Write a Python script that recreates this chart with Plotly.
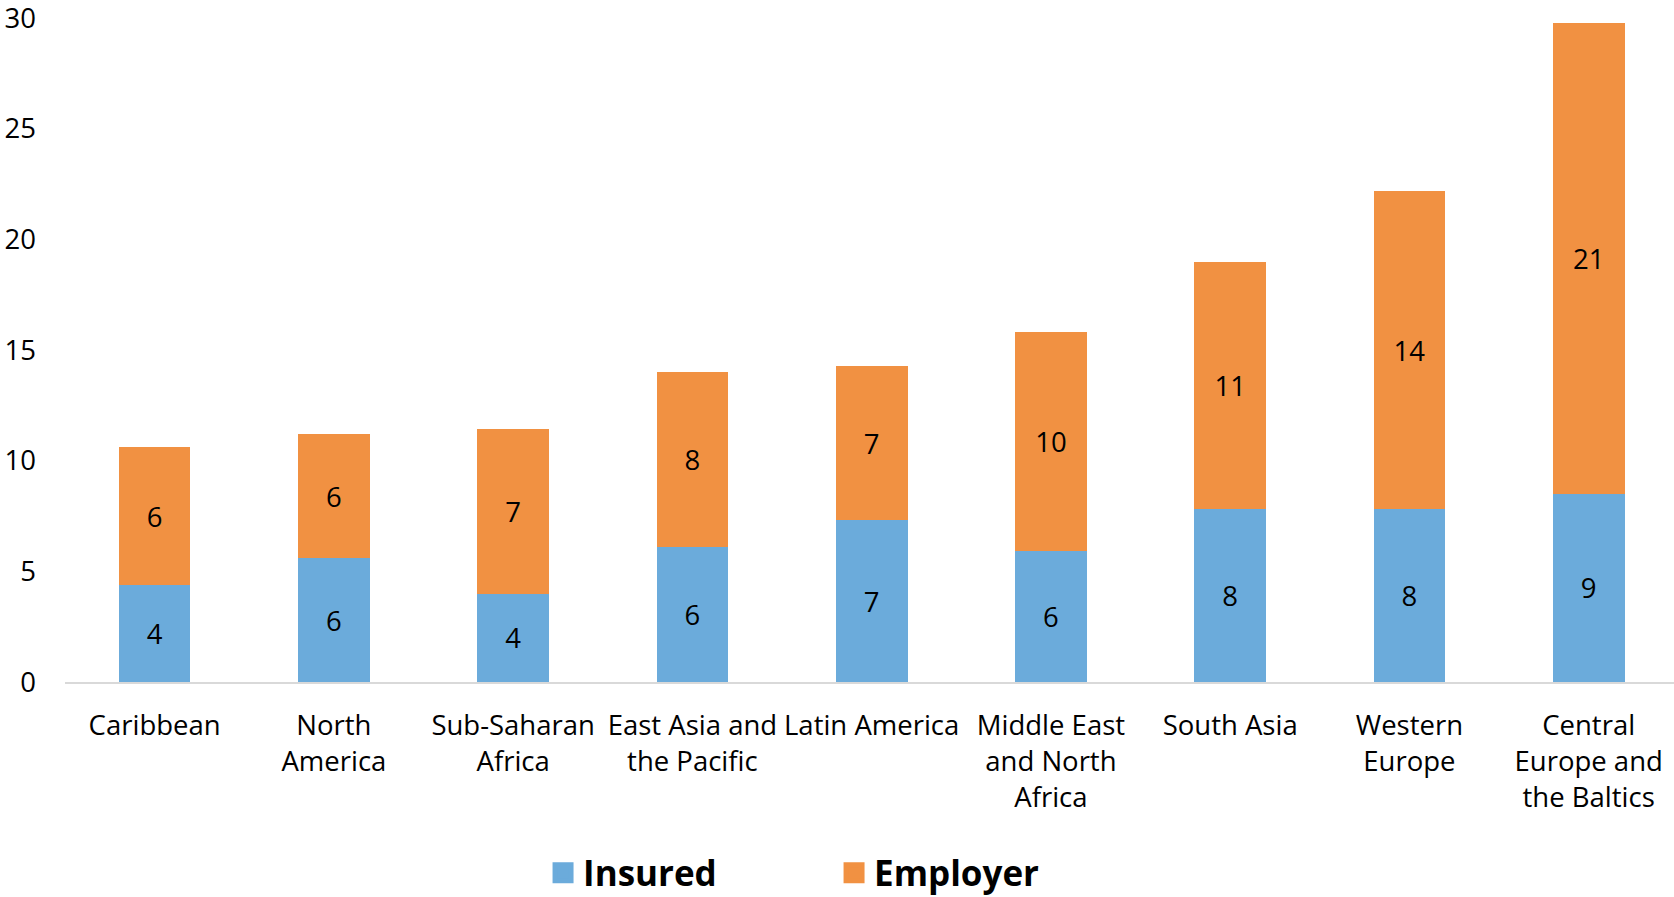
import plotly.graph_objects as go

categories = ["Caribbean", "North<br>America", "Sub-Saharan<br>Africa", "East Asia and<br>the Pacific",
              "Latin America", "Middle East<br>and North<br>Africa", "South Asia", "Western<br>Europe",
              "Central<br>Europe and<br>the Baltics"]
insured = [4.4, 5.6, 4.0, 6.1, 7.3, 5.9, 7.8, 7.8, 8.5]
employer = [6.2, 5.6, 7.45, 7.9, 7.0, 9.9, 11.2, 14.4, 21.3]
y_ticks = [0, 5, 10, 15, 20, 25, 30]
series_names = ["Insured", "Employer"]

blue = "#6BABDB"
orange = "#F19142"
font_family = "Open Sans, sans-serif"
fsize = 27.5

fig = go.Figure()
for name, vals, col in zip(series_names, [insured, employer], [blue, orange]):
    fig.add_trace(go.Bar(name=name, x=categories, y=vals, marker_color=col,
                         marker_line_width=0, texttemplate="%{y:.0f}", textposition="inside",
                         insidetextanchor="middle", showlegend=False,
                         textfont=dict(size=fsize, color="black", family=font_family)))
# legend entries with larger square swatches
for name, col in zip(series_names, [blue, orange]):
    fig.add_trace(go.Scatter(name=name, x=[categories[0]], y=[None], mode="markers",
                             marker=dict(symbol="square", size=22, color=col,
                                         line=dict(color=col, width=5)),
                             showlegend=True, hoverinfo="skip"))

fig.update_layout(
    barmode="stack",
    bargap=0.6,
    width=1674, height=897,
    margin=dict(l=65, r=0, t=18, b=215, autoexpand=False),
    plot_bgcolor="white", paper_bgcolor="white",
    font=dict(family=font_family, size=fsize, color="black"),
    uniformtext=dict(mode="show", minsize=10),
    showlegend=True,
    legend=dict(orientation="h", xref="container", yref="container",
                x=0.3244, xanchor="left", y=0.0268, yanchor="middle",
                font=dict(size=35, family=font_family, color="black", weight="bold"),
                itemsizing="trace", itemwidth=30, entrywidth=246, traceorder="normal"),
)
fig.update_yaxes(range=[0, 30.01], tickvals=y_ticks, showgrid=False, zeroline=False,
                 showline=False, ticks="", ticklabelstandoff=28, automargin=False,
                 ticklabeloverflow="allow",
                 tickfont=dict(size=fsize, family=font_family, color="black"))
fig.update_xaxes(range=[-0.5, 8.476], showline=True, linecolor="#D9D9D9", linewidth=2, ticks="",
                 ticklabelstandoff=18, automargin=False,
                 tickfont=dict(size=fsize, family=font_family, color="black"))

fig.write_html("out.html", config={"displayModeBar": False},
               post_script="document.body.style.margin='0px';")
